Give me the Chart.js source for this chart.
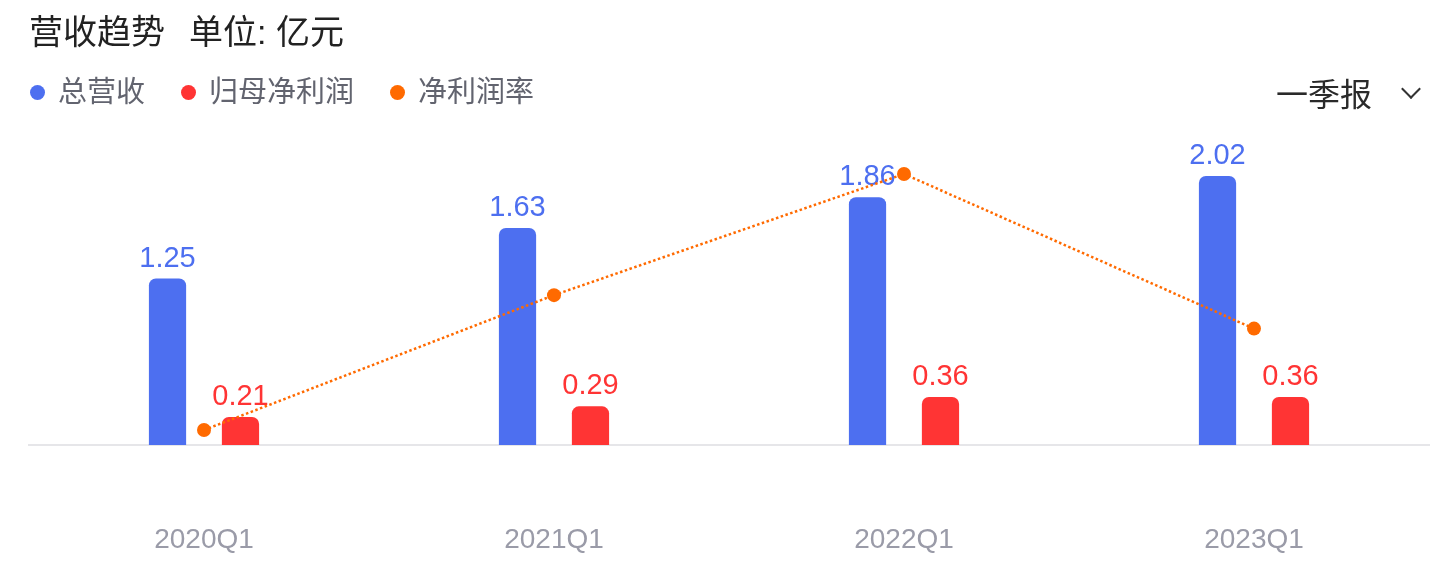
<!DOCTYPE html>
<html>
<head>
<meta charset="utf-8">
<script src="https://cdn.jsdelivr.net/npm/chart.js@4"></script>
<style>
    html, body { margin: 0; padding: 0; background: #fff; }
    body { width: 1437px; height: 576px; position: relative; overflow: hidden;
           font-family: "Liberation Sans", Arial, "Noto Sans CJK SC", sans-serif; }
    #chart-box { position: absolute; left: 0; top: 0; width: 1437px; height: 576px; }
    .title { position: absolute; left: 29px; top: 10px; font-size: 34px; color: #222; line-height: 44px; white-space: pre; }
    .title .unit { margin-left: 24px; }
    .legend { position: absolute; left: 30px; top: 72px; font-size: 29px; color: #62646f; line-height: 40px; display: flex; }
    .legend span { display: flex; align-items: center; margin-right: 36px; }
    .legend i { display: inline-block; width: 15px; height: 15px; border-radius: 50%; margin-right: 13px; }
    .period { position: absolute; left: 1276px; top: 74px; font-size: 32px; color: #2a2a2a; line-height: 42px; }
    .chevron { position: absolute; left: 1404px; top: 82px; width: 12px; height: 12px;
               border-right: 2px solid #333; border-bottom: 2px solid #333; transform: rotate(45deg); }
</style>
</head>
<body>
<div id="chart-box"><canvas id="canvas"></canvas></div>
<div class="title">营收趋势<span class="unit">单位: 亿元</span></div>
<div class="legend">
    <span><i style="background:#4d6ff0"></i>总营收</span>
    <span><i style="background:#ff3434"></i>归母净利润</span>
    <span><i style="background:#ff6a00"></i>净利润率</span>
</div>
<div class="period">一季报</div>
<div class="chevron"></div>
<script>
const categories = ["2020Q1", "2021Q1", "2022Q1", "2023Q1"];
const revenue = [1.25, 1.63, 1.86, 2.02];        // 总营收 (亿元)
const netProfit = [0.21, 0.29, 0.36, 0.36];      // 归母净利润 (亿元)
const netMargin = [16.80, 18.17, 19.40, 17.83];  // 净利润率 (%)

const blue = "#4d6ff0";
const red = "#ff3434";
const orange = "#ff6a00";

// draw the value above every bar
const barLabels = {
    id: "barLabels",
    beforeDatasetsDraw(chart) {
        const ctx = chart.ctx;
        ctx.save();
        ctx.font = "29px 'Liberation Sans', Arial, sans-serif";
        ctx.textAlign = "center";
        ctx.textBaseline = "middle";
        chart.data.datasets.forEach((ds, i) => {
            if (ds.type !== "bar") return;
            const meta = chart.getDatasetMeta(i);
            ctx.fillStyle = ds.backgroundColor;
            meta.data.forEach((bar, j) => {
                ctx.fillText(ds.data[j].toFixed(2), bar.x, bar.y - 20);
            });
        });
        ctx.restore();
    }
};

new Chart(document.getElementById("canvas"), {
    data: {
        labels: categories,
        datasets: [
            {
                type: "line",
                label: "净利润率",
                data: netMargin,
                yAxisID: "y2",
                borderColor: orange,
                backgroundColor: orange,
                borderWidth: 2.5,
                borderDash: [2.5, 2.5],
                pointRadius: 7,
                pointBorderWidth: 0,
                tension: 0,
                order: 0
            },
            {
                type: "bar",
                label: "总营收",
                data: revenue,
                backgroundColor: blue,
                borderRadius: 7,
                borderSkipped: "bottom",
                categoryPercentage: 0.417,
                barPercentage: 0.51,
                order: 1
            },
            {
                type: "bar",
                label: "归母净利润",
                data: netProfit,
                backgroundColor: red,
                borderRadius: 7,
                borderSkipped: "bottom",
                categoryPercentage: 0.417,
                barPercentage: 0.51,
                order: 1
            }
        ]
    },
    options: {
        responsive: true,
        maintainAspectRatio: false,
        animation: false,
        layout: { padding: { left: 29, right: 8, top: 130, bottom: 0 } },
        plugins: { legend: { display: false }, tooltip: { enabled: false } },
        scales: {
            x: {
                offset: true,
                grid: { display: false, drawTicks: false },
                border: { display: true, color: "#e6e6e9", width: 2 },
                ticks: {
                    color: "#9a9ba8",
                    padding: 78,
                    font: { size: 28, family: "'Liberation Sans', Arial, sans-serif" }
                },
                afterFit(scale) { scale.height = 131; }
            },
            y: { display: false, min: 0, max: 2.365 },
            y2: { display: false, min: 16.648, max: 19.847 }
        }
    },
    plugins: [barLabels]
});
</script>
</body>
</html>
